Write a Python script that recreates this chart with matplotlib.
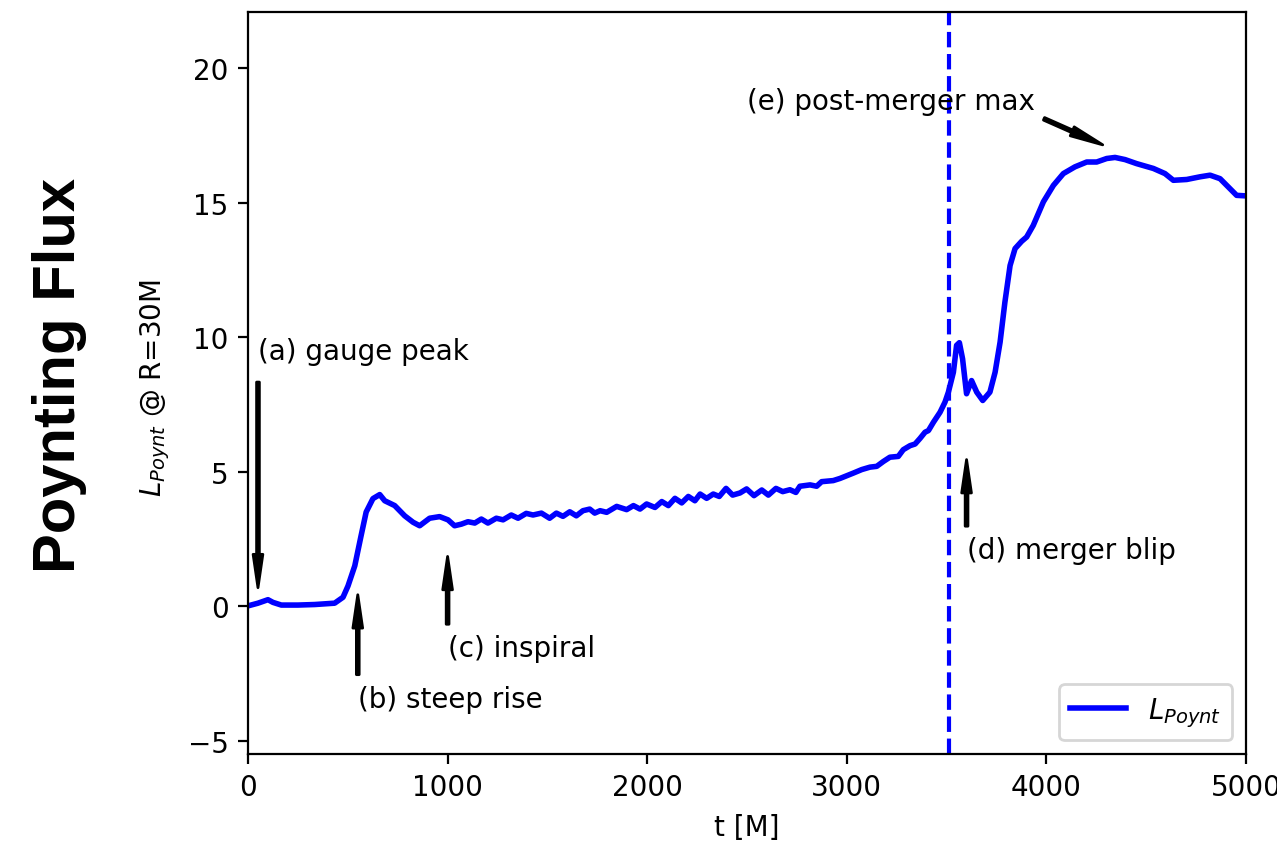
import matplotlib
matplotlib.use("Agg")
import matplotlib.pyplot as plt

# ---- data ----
t_vals = [0, 50, 100, 125, 167, 250, 334, 434, 476, 501, 535, 566, 592, 626, 660, 685,
          735, 785, 827, 860, 910, 960, 1002, 1035, 1069, 1102, 1136, 1169, 1202, 1244,
          1278, 1319, 1353, 1394, 1428, 1470, 1511, 1545, 1578, 1612, 1645, 1678, 1712,
          1737, 1764, 1797, 1847, 1897, 1931, 1964, 1997, 2039, 2073, 2106, 2139, 2173,
          2206, 2239, 2265, 2298, 2331, 2361, 2395, 2428, 2465, 2498, 2535, 2574, 2607,
          2645, 2679, 2715, 2745, 2765, 2816, 2849, 2874, 2932, 2966, 3033, 3075, 3116,
          3150, 3183, 3216, 3258, 3283, 3317, 3342, 3367, 3392, 3409, 3434, 3467, 3492,
          3509, 3534, 3550, 3564, 3580, 3600, 3625, 3651, 3681, 3717, 3743, 3768, 3792,
          3818, 3843, 3876, 3901, 3934, 3985, 4035, 4085, 4143, 4202, 4252, 4302, 4344,
          4394, 4452, 4536, 4594, 4636, 4703, 4770, 4820, 4870, 4920, 4953, 5000]
L_vals = [0.01, 0.11, 0.24, 0.14, 0.04, 0.04, 0.06, 0.11, 0.33, 0.75, 1.5, 2.6, 3.5,
          4.0, 4.15, 3.92, 3.74, 3.36, 3.12, 2.99, 3.27, 3.33, 3.21, 2.99, 3.05, 3.14,
          3.09, 3.24, 3.09, 3.27, 3.21, 3.39, 3.27, 3.45, 3.39, 3.46, 3.27, 3.46, 3.34,
          3.51, 3.36, 3.55, 3.61, 3.46, 3.55, 3.49, 3.71, 3.59, 3.74, 3.61, 3.80, 3.67,
          3.89, 3.74, 4.01, 3.84, 4.08, 3.92, 4.17, 4.01, 4.17, 4.08, 4.38, 4.13, 4.21,
          4.36, 4.11, 4.32, 4.13, 4.38, 4.26, 4.33, 4.23, 4.46, 4.51, 4.46, 4.63, 4.67,
          4.75, 4.95, 5.08, 5.17, 5.20, 5.38, 5.54, 5.57, 5.82, 5.97, 6.03, 6.24, 6.47,
          6.53, 6.84, 7.21, 7.59, 7.96, 8.7, 9.7, 9.8, 9.2, 7.9, 8.39, 7.96, 7.65, 7.96,
          8.7, 9.82, 11.3, 12.67, 13.3, 13.57, 13.73, 14.16, 15.04, 15.65, 16.09, 16.34,
          16.52, 16.52, 16.65, 16.69, 16.61, 16.46, 16.28, 16.09, 15.84, 15.87, 15.97,
          16.03, 15.9, 15.53, 15.28, 15.26]

merger_t = 3510
x_ticks = [0, 1000, 2000, 3000, 4000, 5000]
y_ticks = [-5, 0, 5, 10, 15, 20]

ann_texts = ["(a) gauge peak", "(b) steep rise", "(c) inspiral",
             "(d) merger blip", "(e) post-merger max"]
ann_xy = [(50, 0.25), (550, 0.6), (1000, 2.0), (3600, 5.6), (4300, 17.1)]
ann_xytext = [(50, 9.2), (550, -3.75), (1000, -1.85), (3600, 1.8), (2500, 18.5)]

# ---- figure ----
W, H = 1277, 853
fig = plt.figure(figsize=(W / 200, H / 200), dpi=200)
ax = fig.add_axes([248 / W, 1 - 755 / H, (1246 - 248) / W, (755 - 13) / H])

ax.plot(t_vals, L_vals, color="b", lw=2, label="$L_{Poynt}$")
ax.axvline(merger_t, color="b", ls="--", lw=1.5)

for txt, xy, xyt in zip(ann_texts, ann_xy, ann_xytext):
    ax.annotate(txt, xy=xy, xytext=xyt, fontsize=10,
                arrowprops=dict(facecolor="black", shrink=0.05, width=1,
                                headwidth=3.5, headlength=12))

ax.set_xlim(0, 5000)
ax.set_ylim(-5.5, 22.1)
ax.set_xticks(x_ticks)
ax.set_yticks(y_ticks)
ax.tick_params(labelsize=10)
ax.set_xlabel("t [M]", fontsize=10)
ax.legend(loc="lower right", fontsize=10)

fig.text(155 / W, 1 - 388 / H, "$L_{Poynt}$ @ R=30M", rotation=90,
         ha="center", va="center", fontsize=10)
fig.text(60 / W, 1 - 375 / H, "Poynting Flux", rotation=90, ha="center",
         va="center", fontsize=21.5, fontweight="bold",
         family=["Liberation Sans", "DejaVu Sans"])

fig.savefig("out.png", dpi=200)
